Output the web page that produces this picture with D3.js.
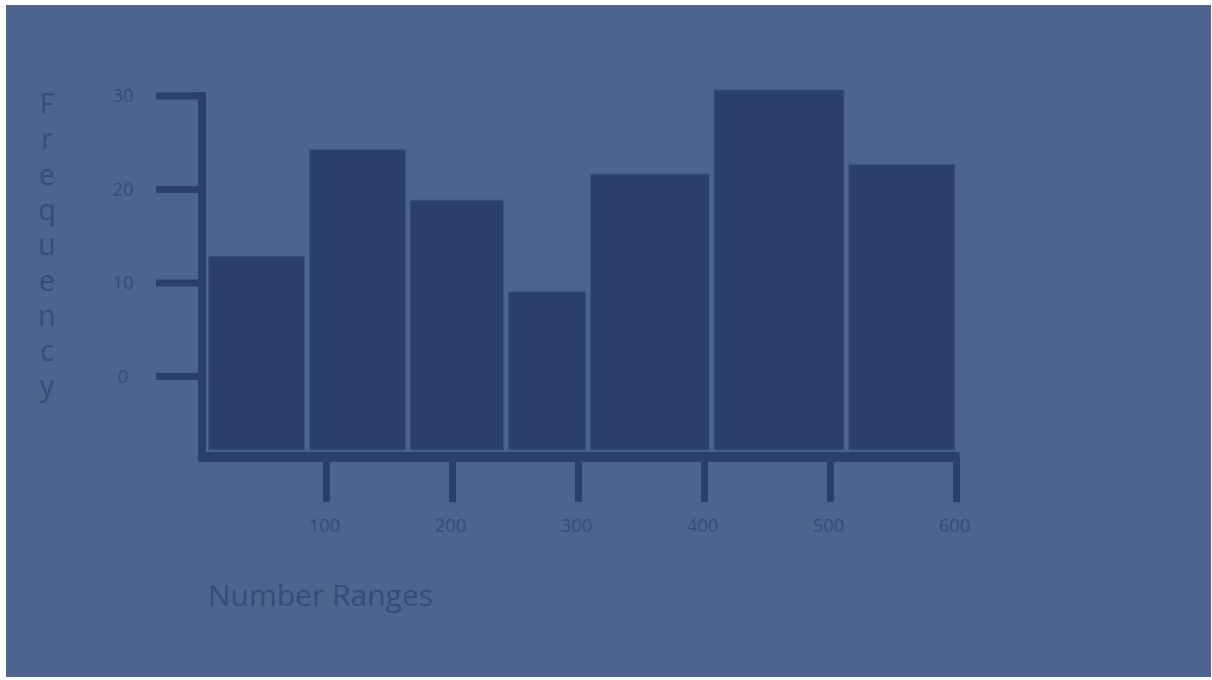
<!DOCTYPE html>
<html>
<head>
<meta charset="utf-8">
<script src="https://cdn.jsdelivr.net/npm/d3@7"></script>
<style>
  html, body { margin: 0; padding: 0; background: #ffffff; }
  svg { display: block; }
  text { font-family: "Open Sans", "Noto Sans", sans-serif; }
</style>
</head>
<body>
<svg id="chart" width="1212" height="680"></svg>
<script>
// ---- data ----
const binStarts = [5, 85, 165, 243, 308, 406, 513];
const binEnds   = [85, 165, 243, 308, 406, 513, 601];
const frequencies = [12.8, 24.2, 18.8, 9.0, 21.6, 30.6, 22.6];
const yTicks = [0, 10, 20, 30];
const xTicks = [100, 200, 300, 400, 500, 600];
const yTitle = "Frequency";
const xTitle = "Number Ranges";

// ---- style / layout ----
const bg = "#4d648e";
const dark = "#2a406a";
const textCol = "#364c78";
const baseValue = -7.9;   // bars hang down below the zero tick to this level

const svg = d3.select("#chart");
svg.append("rect").attr("x", 6).attr("y", 5).attr("width", 1205).attr("height", 672).attr("fill", bg);

const x = d3.scaleLinear().domain([0, 600]).range([200, 956]);
const y = d3.scaleLinear().domain([0, 30]).range([376, 95.5]);

const bins = binStarts.map((s, i) => ({ x0: s, x1: binEnds[i], v: frequencies[i] }));

// bars
svg.append("g").selectAll("rect").data(bins).join("rect")
  .attr("x", d => x(d.x0) + 2.5)
  .attr("width", d => x(d.x1) - x(d.x0) - 5)
  .attr("y", d => y(d.v))
  .attr("height", d => y(baseValue) - y(d.v))
  .attr("fill", dark)
  .attr("stroke", "#3a5282")
  .attr("stroke-width", 1);

// y axis
const yAxis = d3.axisLeft(y).tickValues(yTicks).tickSize(46).tickPadding(0).tickSizeOuter(0);
const gy = svg.append("g").attr("transform", "translate(202,0)").call(yAxis);
gy.select(".domain").remove();
gy.selectAll(".tick line").attr("stroke", dark).attr("stroke-width", 7);
gy.selectAll(".tick text").attr("x", -79).attr("text-anchor", "middle")
  .attr("fill", textCol).attr("font-size", 18.5).attr("dy", "0.35em");
svg.append("line").attr("x1", 202).attr("x2", 202).attr("y1", 92).attr("y2", 462)
  .attr("stroke", dark).attr("stroke-width", 8);

// x axis
const xAxis = d3.axisBottom(x).tickValues(xTicks).tickSize(45).tickPadding(0).tickSizeOuter(0);
const gx = svg.append("g").attr("transform", "translate(0,457)").call(xAxis);
gx.select(".domain").remove();
gx.selectAll(".tick line").attr("stroke", dark).attr("stroke-width", 7);
gx.selectAll(".tick text").attr("x", -2).attr("y", 69).attr("dy", "0.35em")
  .attr("fill", textCol).attr("font-size", 18.5);
svg.append("line").attr("x1", 198).attr("x2", 959.5).attr("y1", 457).attr("y2", 457)
  .attr("stroke", dark).attr("stroke-width", 10);

// x title
svg.append("text").attr("x", 208).attr("y", 606)
  .attr("fill", textCol).attr("font-size", 30).text(xTitle);

// y title, stacked letters
const yt = svg.append("text").attr("fill", textCol).attr("font-size", 29).attr("text-anchor", "middle");
yt.selectAll("tspan").data(yTitle.split("")).join("tspan")
  .attr("x", 47)
  .attr("y", (d, i) => 114 + i * 35.3)
  .text(d => d);
</script>
</body>
</html>
